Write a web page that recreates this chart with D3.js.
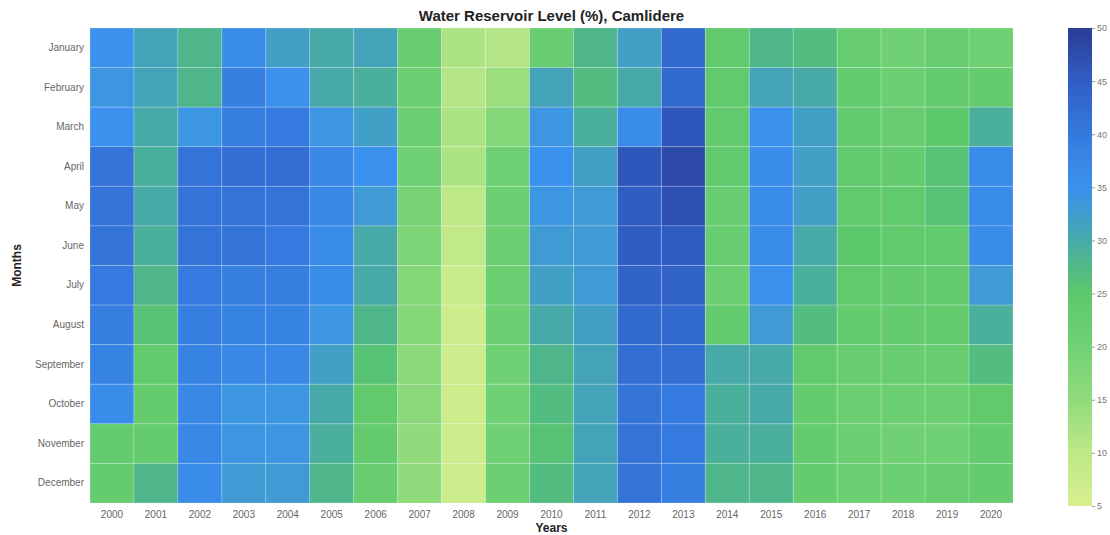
<!DOCTYPE html>
<html>
<head>
<meta charset="utf-8">
<script src="https://cdn.jsdelivr.net/npm/d3@7"></script>
<style>
  body { margin: 0; background: #fff; }
  text { font-family: "Liberation Sans", Arial, sans-serif; }
</style>
</head>
<body>
<div id="chart"></div>
<script>
// Years on x, months on y
const years = d3.range(2000, 2021).map(String);
const months = ["January", "February", "March", "April", "May", "June",
    "July", "August", "September", "October", "November", "December"];
const colorTicks = [5, 10, 15, 20, 25, 30, 35, 40, 45, 50];

// Reservoir level (%) per year, Jan..Dec
const y2000 = [35, 34, 35, 41, 41, 41, 40, 39, 38, 36, 23, 23];
const y2001 = [31, 31, 30, 29, 30, 29, 28, 26, 24, 23, 23, 28];
const y2002 = [28, 28, 34, 41, 41, 41, 40, 39, 38, 37, 37, 36];
const y2003 = [36, 39, 39, 42, 41, 41, 39, 38, 37, 34, 34, 33];
const y2004 = [32, 35, 40, 42, 41, 40, 39, 38, 37, 34, 34, 33];
const y2005 = [30, 30, 34, 37, 37, 36, 36, 34, 32, 30, 29, 28];
const y2006 = [31, 29, 32, 35, 33, 30, 30, 28, 26, 24, 23, 22];
const y2007 = [22, 21, 21, 20, 19, 18, 17, 17, 16, 16, 15, 15];
const y2008 = [12, 11, 12, 12, 10, 9, 8, 7, 7, 7, 7, 7];
const y2009 = [11, 14, 17, 20, 21, 21, 21, 21, 20, 20, 20, 21];
const y2010 = [22, 31, 34, 35, 34, 33, 32, 30, 28, 27, 26, 27];
const y2011 = [28, 27, 29, 32, 33, 33, 33, 32, 31, 31, 31, 31];
const y2012 = [32, 30, 36, 46, 45, 45, 44, 43, 42, 41, 41, 41];
const y2013 = [43, 43, 46, 48, 47, 45, 44, 43, 42, 40, 40, 39];
const y2014 = [24, 24, 24, 24, 22, 22, 21, 23, 30, 29, 29, 28];
const y2015 = [28, 31, 35, 36, 36, 36, 35, 33, 30, 30, 29, 28];
const y2016 = [27, 30, 32, 32, 32, 30, 29, 27, 24, 23, 23, 23];
const y2017 = [22, 23, 23, 24, 24, 25, 24, 23, 22, 21, 21, 21];
const y2018 = [20, 21, 22, 23, 24, 24, 23, 23, 22, 21, 20, 21];
const y2019 = [22, 23, 25, 26, 26, 24, 23, 23, 22, 21, 20, 22];
const y2020 = [20, 23, 29, 36, 36, 36, 33, 29, 27, 24, 23, 23];

const levels = [y2000, y2001, y2002, y2003, y2004, y2005, y2006, y2007, y2008, y2009, y2010,
    y2011, y2012, y2013, y2014, y2015, y2016, y2017, y2018, y2019, y2020];

// flatten into cells
const cells = [];
levels.forEach((col, i) => col.forEach((v, j) => cells.push({ year: years[i], month: months[j], value: v })));

const W = 1110, H = 535;
const margin = { top: 28, left: 90, right: 97, bottom: 32 };
const width = W - margin.left - margin.right;
const height = H - margin.top - margin.bottom;

const svg = d3.select("#chart").append("svg")
    .attr("width", W)
    .attr("height", H);

const g = svg.append("g")
    .attr("transform", `translate(${margin.left},${margin.top})`);

const x = d3.scaleBand().domain(years).range([0, width]);
const y = d3.scaleBand().domain(months).range([0, height]);

// yellow-green -> green -> teal -> blue -> navy
const color = d3.scaleLinear()
    .domain([5, 10, 15, 20, 25, 28, 31, 35, 40, 45, 50])
    .range(["#d8ef8f", "#bde888", "#92db7c", "#70d174", "#5cc86b", "#4fb68c", "#44a3b8",
        "#3b91ee", "#357ade", "#305dc4", "#2b3d96"])
    .clamp(true);

// heatmap cells
g.selectAll("rect.cell")
    .data(cells)
    .join("rect")
    .attr("class", "cell")
    .attr("x", d => x(d.year))
    .attr("y", d => y(d.month))
    .attr("width", x.bandwidth())
    .attr("height", y.bandwidth())
    .attr("fill", d => color(d.value))
    .attr("stroke", "rgba(255,255,255,0.2)")
    .attr("stroke-width", 1);

// x axis
const xAxis = g.append("g")
    .attr("transform", `translate(0,${height})`)
    .call(d3.axisBottom(x).tickSize(0).tickPadding(8));
xAxis.select(".domain").remove();
xAxis.selectAll("text").style("font-size", "10px").style("fill", "#666");

// y axis
const yAxis = g.append("g")
    .call(d3.axisLeft(y).tickSize(0).tickPadding(6));
yAxis.select(".domain").remove();
yAxis.selectAll("text").style("font-size", "10px").style("fill", "#666");

// title and axis titles
svg.append("text")
    .attr("x", margin.left + width / 2)
    .attr("y", 21)
    .attr("text-anchor", "middle")
    .style("font-size", "15px")
    .style("font-weight", "bold")
    .style("fill", "#222")
    .text("Water Reservoir Level (%), Camlidere");

svg.append("text")
    .attr("x", margin.left + width / 2)
    .attr("y", 532)
    .attr("text-anchor", "middle")
    .style("font-size", "12px")
    .style("font-weight", "bold")
    .style("fill", "#222")
    .text("Years");

svg.append("text")
    .attr("transform", `translate(21,${margin.top + height / 2}) rotate(-90)`)
    .attr("text-anchor", "middle")
    .style("font-size", "12px")
    .style("font-weight", "bold")
    .style("fill", "#222")
    .text("Months");

// colorbar
const cbX = 1068, cbW = 24, cbTop = 28, cbBottom = 506;
const cScale = d3.scaleLinear().domain([5, 50]).range([cbBottom, cbTop]);

const defs = svg.append("defs");
const grad = defs.append("linearGradient")
    .attr("id", "cbGrad")
    .attr("x1", 0).attr("y1", 1).attr("x2", 0).attr("y2", 0);
d3.range(0, 1.0001, 0.02).forEach(t => {
    grad.append("stop")
        .attr("offset", t)
        .attr("stop-color", color(5 + t * 45));
});

svg.append("rect")
    .attr("x", cbX)
    .attr("y", cbTop)
    .attr("width", cbW)
    .attr("height", cbBottom - cbTop)
    .attr("fill", "url(#cbGrad)");

const cAxis = svg.append("g")
    .attr("transform", `translate(${cbX + cbW},0)`)
    .call(d3.axisRight(cScale).tickValues(colorTicks).tickSize(3).tickPadding(2));
cAxis.select(".domain").remove();
cAxis.selectAll("line").attr("stroke", "#999");
cAxis.selectAll("text").style("font-size", "9px").style("fill", "#777");
</script>
</body>
</html>
